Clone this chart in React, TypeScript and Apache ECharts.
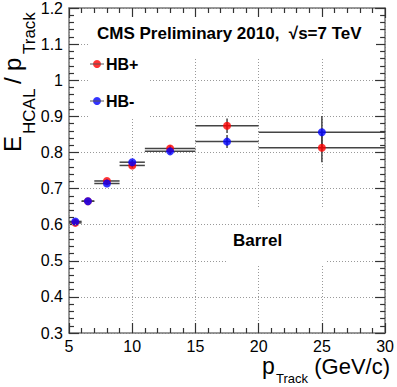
import React, { useEffect, useRef } from "react";
import * as echarts from "echarts";

const binLow = [5, 6, 7, 9, 11, 15, 20];
const binHigh = [6, 7, 9, 11, 15, 20, 30];
const ptX = [5.5, 6.5, 8, 10, 13, 17.5, 25];
const hbPlus = [0.605, 0.665, 0.721, 0.764, 0.811, 0.874, 0.813];
const hbPlusErr = [0.004, 0.004, 0.005, 0.006, 0.008, 0.02, 0.04];
const hbMinus = [0.609, 0.665, 0.714, 0.773, 0.803, 0.83, 0.856];
const hbMinusErr = [0.004, 0.004, 0.005, 0.006, 0.007, 0.018, 0.045];

const FONT = "'Liberation Sans', Arial, Helvetica, sans-serif";

function errData(vals: number[], errs: number[]) {
  return vals.map((v, i) => [ptX[i], v, binLow[i], binHigh[i], errs[i]]);
}

function renderErr(params: any, api: any) {
  const x = api.value(0), y = api.value(1), lo = api.value(2), hi = api.value(3), e = api.value(4);
  const pL = api.coord([lo, y]);
  const pR = api.coord([hi, y]);
  const pT = api.coord([x, y + e]);
  const pB = api.coord([x, y - e]);
  const st = { stroke: "#444", lineWidth: 1.5 };
  return {
    type: "group",
    children: [
      { type: "line", shape: { x1: pL[0], y1: pL[1], x2: pR[0], y2: pR[1] }, style: st },
      { type: "line", shape: { x1: pT[0], y1: pT[1], x2: pB[0], y2: pB[1] }, style: st },
    ],
  };
}

function mkTick() {
  return { show: true, inside: true, length: 10, lineStyle: { color: "#333", width: 1.2 } };
}
function mkMinor() {
  return { show: true, splitNumber: 5, length: 5, lineStyle: { color: "#333", width: 1.2 } };
}
function mkLine() {
  return { show: true, onZero: false, lineStyle: { color: "#777", width: 1.5 } };
}

export default function App() {
  const ref = useRef<HTMLDivElement>(null);
  useEffect(() => {
    if (!ref.current) return;
    const chart = echarts.init(ref.current, undefined, { renderer: "svg" });
    const grid = { type: [1, 2], color: "#999", width: 1 };
    const label = { fontFamily: FONT, fontSize: 16, color: "#000" };
    chart.setOption({
      animation: false,
      backgroundColor: "#fff",
      grid: { left: 69, top: 6, right: 9, bottom: 54 },
      xAxis: [
        {
          type: "value", min: 5, max: 30, interval: 5, position: "bottom",
          axisLine: mkLine(), axisTick: mkTick(), minorTick: mkMinor(),
          axisLabel: { ...label, margin: 5, showMinLabel: true, showMaxLabel: true },
          splitLine: { show: true, lineStyle: grid },
        },
        {
          type: "value", min: 5, max: 30, interval: 5, position: "top",
          axisLine: mkLine(), axisTick: mkTick(), minorTick: mkMinor(),
          axisLabel: { show: false }, splitLine: { show: false },
        },
      ],
      yAxis: [
        {
          type: "value", min: 0.3, max: 1.2, interval: 0.1, position: "left",
          axisLine: mkLine(), axisTick: mkTick(), minorTick: mkMinor(),
          axisLabel: { ...label, margin: 6, showMinLabel: true, showMaxLabel: true },
          splitLine: { show: true, lineStyle: grid },
        },
        {
          type: "value", min: 0.3, max: 1.2, interval: 0.1, position: "right",
          axisLine: mkLine(), axisTick: mkTick(), minorTick: mkMinor(),
          axisLabel: { show: false }, splitLine: { show: false },
        },
      ],
      legend: {
        data: ["HB+", "HB-"], orient: "vertical", left: 93, top: 56, padding: 0,
        itemWidth: 8, itemHeight: 8, itemGap: 21, icon: "circle",
        textStyle: { fontFamily: FONT, fontWeight: "bold", fontSize: 16, color: "#000" },
      },
      series: [
        {
          type: "custom", name: "HB+ err", renderItem: renderErr, silent: true,
          data: errData(hbPlus, hbPlusErr), encode: { x: 0, y: 1 },
          markLine: {
            silent: true, symbol: "none", label: { show: false },
            lineStyle: { type: [1, 2], color: "#999", width: 1 },
            data: [{ yAxis: 0.6 }],
          },
        },
        {
          type: "scatter", name: "HB+", symbol: "circle", symbolSize: 8,
          itemStyle: { color: "#ff0000" },
          data: ptX.map((x, i) => [x, hbPlus[i]]),
        },
        {
          type: "custom", name: "HB- err", renderItem: renderErr, silent: true,
          data: errData(hbMinus, hbMinusErr), encode: { x: 0, y: 1 },
        },
        {
          type: "scatter", name: "HB-", symbol: "circle", symbolSize: 8,
          itemStyle: { color: "#0000ff" },
          data: ptX.map((x, i) => [x, hbMinus[i]]),
        },
      ],
      graphic: [
        { type: "rect", z: 1, shape: { x: 88, y: 17, width: 288, height: 41 }, style: { fill: "#fff" } },
        { type: "rect", z: 1, shape: { x: 88, y: 58, width: 62, height: 60 }, style: { fill: "#fff" } },
        { type: "rect", z: 1, shape: { x: 228, y: 208, width: 99, height: 57 }, style: { fill: "#fff" } },
        { type: "line", z: 5, shape: { x1: 90, y1: 64, x2: 104, y2: 64 }, style: { stroke: "#555", lineWidth: 1 } },
        { type: "line", z: 5, shape: { x1: 90, y1: 101, x2: 104, y2: 101 }, style: { stroke: "#555", lineWidth: 1 } },
        {
          type: "text", z: 10, x: 97, y: 33,
          style: { text: "CMS Preliminary 2010,  \u221As=7 TeV", font: `bold 17px ${FONT}`, fill: "#000", verticalAlign: "middle" },
        },
        {
          type: "text", z: 10, x: 233, y: 240,
          style: { text: "Barrel", font: `bold 17px ${FONT}`, fill: "#000", verticalAlign: "middle" },
        },
        { type: "text", z: 10, x: 262, y: 374 - 0.35 * 23, style: { text: "p", font: `23px ${FONT}`, fill: "#000", verticalAlign: "middle" } },
        { type: "text", z: 10, x: 276, y: 383 - 0.35 * 13, style: { text: "Track", font: `13px ${FONT}`, fill: "#000", verticalAlign: "middle" } },
        { type: "text", z: 10, x: 390, y: 374 - 0.35 * 22, style: { text: "(GeV/c)", font: `22px ${FONT}`, fill: "#000", verticalAlign: "middle", align: "right" } },
        {
          type: "group", x: 21, y: 152, rotation: Math.PI / 2, z: 10,
          children: [
            { type: "text", z: 10, x: 0, y: -0.35 * 24, style: { text: "E", font: `24px ${FONT}`, fill: "#000", verticalAlign: "middle" } },
            { type: "text", z: 10, x: 18, y: 14 - 0.35 * 17, style: { text: "HCAL", font: `17px ${FONT}`, fill: "#000", verticalAlign: "middle" } },
            { type: "text", z: 10, x: 68, y: -0.35 * 24, style: { text: "/", font: `24px ${FONT}`, fill: "#000", verticalAlign: "middle" } },
            { type: "text", z: 10, x: 81, y: -0.35 * 24, style: { text: "p", font: `24px ${FONT}`, fill: "#000", verticalAlign: "middle" } },
            { type: "text", z: 10, x: 98, y: 14 - 0.35 * 17, style: { text: "Track", font: `17px ${FONT}`, fill: "#000", verticalAlign: "middle" } },
          ],
        },
      ],
    });
    return () => chart.dispose();
  }, []);
  return <div ref={ref} style={{ width: 397, height: 387, position: "absolute", left: 0, top: 0 }} />;
}
